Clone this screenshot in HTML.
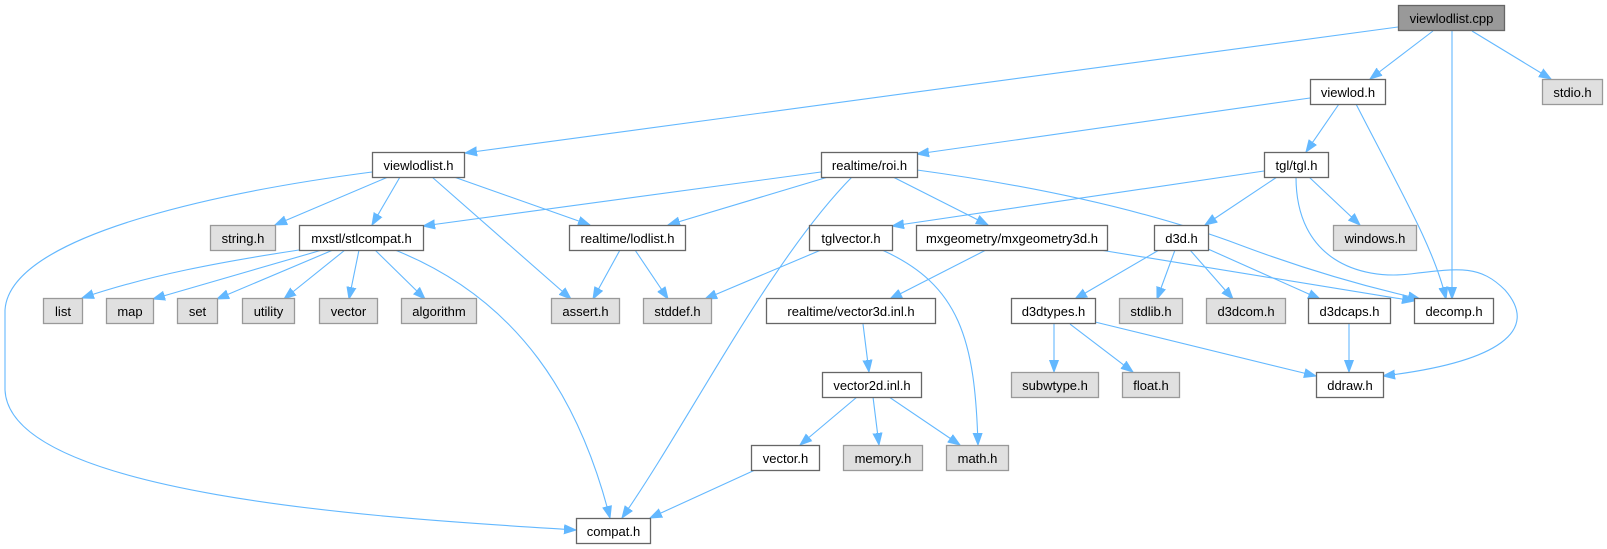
<!DOCTYPE html>
<html><head><meta charset="utf-8"><style>
html,body{margin:0;padding:0;background:#fff;}
svg{display:block;}
text{font-family:"Liberation Sans",Arial,sans-serif;font-size:13px;fill:#000;}
.e{fill:none;stroke:#63b8ff;stroke-width:1.1;}
.n{fill:#fff;stroke:#666;stroke-width:1.3;}
.g{fill:#e0e0e0;stroke:#999;stroke-width:1.3;}
.r{fill:#999;stroke:#666;stroke-width:1.3;}
</style></head><body>
<svg width="1607" height="549" viewBox="0 0 1607 549" xmlns="http://www.w3.org/2000/svg">
<defs>
<marker id="a" markerUnits="userSpaceOnUse" markerWidth="14" markerHeight="12" refX="12" refY="5.5" orient="auto">
<path d="M0,1 L12,5.5 L0,10 Z" fill="#63b8ff" stroke="#63b8ff"/>
</marker>
</defs>
<g marker-end="url(#a)">
<path class="e" d="M1398,27 L465,153"/>
<path class="e" d="M1433,31 L1370,79"/>
<path class="e" d="M1452,31 L1452,299"/>
<path class="e" d="M1472,31 L1551,79"/>
<path class="e" d="M1310,98 L917,154"/>
<path class="e" d="M1339,104 L1306,152"/>
<path class="e" d="M1356,104 C1400,190 1435,250 1446,299"/>
<path class="e" d="M388,177 L275,225"/>
<path class="e" d="M400,177 L372,225"/>
<path class="e" d="M432,177 L571,299"/>
<path class="e" d="M454,177 L590,225"/>
<path class="e" d="M372,172 C250,188 10,230 5,310 L5,390 C10,500 420,520 576,530"/>
<path class="e" d="M821,172 L423,226"/>
<path class="e" d="M828,177 L668,225"/>
<path class="e" d="M852,177 C770,260 690,420 622,518"/>
<path class="e" d="M893,177 L988,225"/>
<path class="e" d="M917,170 C1100,195 1200,230 1240,245 C1320,275 1380,290 1420,299"/>
<path class="e" d="M1264,171 L892,226"/>
<path class="e" d="M1277,177 L1205,225"/>
<path class="e" d="M1309,177 L1360,225"/>
<path class="e" d="M1296,177 C1296,260 1360,280 1410,274 C1460,268 1480,265 1505,290 C1540,330 1500,362 1383,376"/>
<path class="e" d="M821,250 L705,299"/>
<path class="e" d="M882,250 C960,285 975,340 978,445"/>
<path class="e" d="M986,250 L890,299"/>
<path class="e" d="M1100,250 L1414,301"/>
<path class="e" d="M620,250 L593,299"/>
<path class="e" d="M635,250 L668,299"/>
<path class="e" d="M299,250 C220,262 150,275 82,298"/>
<path class="e" d="M322,250 L153,299"/>
<path class="e" d="M333,250 L217,299"/>
<path class="e" d="M345,250 L284,299"/>
<path class="e" d="M359,250 L349,299"/>
<path class="e" d="M375,250 L425,299"/>
<path class="e" d="M395,250 C520,300 580,400 610,518"/>
<path class="e" d="M1159,250 L1075,299"/>
<path class="e" d="M1175,250 L1157,299"/>
<path class="e" d="M1190,250 L1233,299"/>
<path class="e" d="M1208,249 L1320,299"/>
<path class="e" d="M1054,324 L1054,372"/>
<path class="e" d="M1070,324 L1133,372"/>
<path class="e" d="M1095,322 L1316,376"/>
<path class="e" d="M1349,324 L1349,372"/>
<path class="e" d="M863,324 L869,372"/>
<path class="e" d="M857,397 L800,445"/>
<path class="e" d="M873,397 L879,445"/>
<path class="e" d="M889,397 L960,445"/>
<path class="e" d="M755,470 L650,518"/>
</g>
<rect class="r" x="1398.5" y="5.5" width="106" height="25"/><text x="1451.5" y="23" text-anchor="middle">viewlodlist.cpp</text>
<rect class="n" x="1310.5" y="79.5" width="75" height="25"/><text x="1348" y="97" text-anchor="middle">viewlod.h</text>
<rect class="g" x="1542.5" y="79.5" width="60" height="25"/><text x="1572.5" y="97" text-anchor="middle">stdio.h</text>
<rect class="n" x="372.5" y="152.5" width="92" height="25"/><text x="418.5" y="170" text-anchor="middle">viewlodlist.h</text>
<rect class="n" x="821.5" y="152.5" width="96" height="25"/><text x="869.5" y="170" text-anchor="middle">realtime/roi.h</text>
<rect class="n" x="1264.5" y="152.5" width="64" height="25"/><text x="1296.5" y="170" text-anchor="middle">tgl/tgl.h</text>
<rect class="g" x="210.5" y="225.5" width="65" height="25"/><text x="243" y="243" text-anchor="middle">string.h</text>
<rect class="n" x="299.5" y="225.5" width="124" height="25"/><text x="361.5" y="243" text-anchor="middle">mxstl/stlcompat.h</text>
<rect class="n" x="569.5" y="225.5" width="116" height="25"/><text x="627.5" y="243" text-anchor="middle">realtime/lodlist.h</text>
<rect class="n" x="809.5" y="225.5" width="83" height="25"/><text x="851" y="243" text-anchor="middle">tglvector.h</text>
<rect class="n" x="916.5" y="225.5" width="191" height="25"/><text x="1012" y="243" text-anchor="middle">mxgeometry/mxgeometry3d.h</text>
<rect class="n" x="1154.5" y="225.5" width="54" height="25"/><text x="1181.5" y="243" text-anchor="middle">d3d.h</text>
<rect class="g" x="1333.5" y="225.5" width="83" height="25"/><text x="1375" y="243" text-anchor="middle">windows.h</text>
<rect class="g" x="43.5" y="298.5" width="39" height="25"/><text x="63" y="316" text-anchor="middle">list</text>
<rect class="g" x="106.5" y="298.5" width="47" height="25"/><text x="130" y="316" text-anchor="middle">map</text>
<rect class="g" x="177.5" y="298.5" width="40" height="25"/><text x="197.5" y="316" text-anchor="middle">set</text>
<rect class="g" x="242.5" y="298.5" width="52" height="25"/><text x="268.5" y="316" text-anchor="middle">utility</text>
<rect class="g" x="319.5" y="298.5" width="58" height="25"/><text x="348.5" y="316" text-anchor="middle">vector</text>
<rect class="g" x="401.5" y="298.5" width="75" height="25"/><text x="439" y="316" text-anchor="middle">algorithm</text>
<rect class="g" x="551.5" y="298.5" width="68" height="25"/><text x="585.5" y="316" text-anchor="middle">assert.h</text>
<rect class="g" x="643.5" y="298.5" width="68" height="25"/><text x="677.5" y="316" text-anchor="middle">stddef.h</text>
<rect class="n" x="766.5" y="298.5" width="169" height="25"/><text x="851" y="316" text-anchor="middle">realtime/vector3d.inl.h</text>
<rect class="n" x="1011.5" y="298.5" width="84" height="25"/><text x="1053.5" y="316" text-anchor="middle">d3dtypes.h</text>
<rect class="g" x="1119.5" y="298.5" width="63" height="25"/><text x="1151" y="316" text-anchor="middle">stdlib.h</text>
<rect class="g" x="1206.5" y="298.5" width="79" height="25"/><text x="1246" y="316" text-anchor="middle">d3dcom.h</text>
<rect class="n" x="1308.5" y="298.5" width="82" height="25"/><text x="1349.5" y="316" text-anchor="middle">d3dcaps.h</text>
<rect class="n" x="1414.5" y="298.5" width="79" height="25"/><text x="1454" y="316" text-anchor="middle">decomp.h</text>
<rect class="n" x="822.5" y="372.5" width="99" height="25"/><text x="872" y="390" text-anchor="middle">vector2d.inl.h</text>
<rect class="g" x="1011.5" y="372.5" width="87" height="25"/><text x="1055" y="390" text-anchor="middle">subwtype.h</text>
<rect class="g" x="1122.5" y="372.5" width="57" height="25"/><text x="1151" y="390" text-anchor="middle">float.h</text>
<rect class="n" x="1316.5" y="372.5" width="67" height="25"/><text x="1350" y="390" text-anchor="middle">ddraw.h</text>
<rect class="n" x="751.5" y="445.5" width="68" height="25"/><text x="785.5" y="463" text-anchor="middle">vector.h</text>
<rect class="g" x="843.5" y="445.5" width="79" height="25"/><text x="883" y="463" text-anchor="middle">memory.h</text>
<rect class="g" x="946.5" y="445.5" width="62" height="25"/><text x="977.5" y="463" text-anchor="middle">math.h</text>
<rect class="n" x="576.5" y="518.5" width="74" height="25"/><text x="613.5" y="536" text-anchor="middle">compat.h</text>
</svg>
</body></html>
